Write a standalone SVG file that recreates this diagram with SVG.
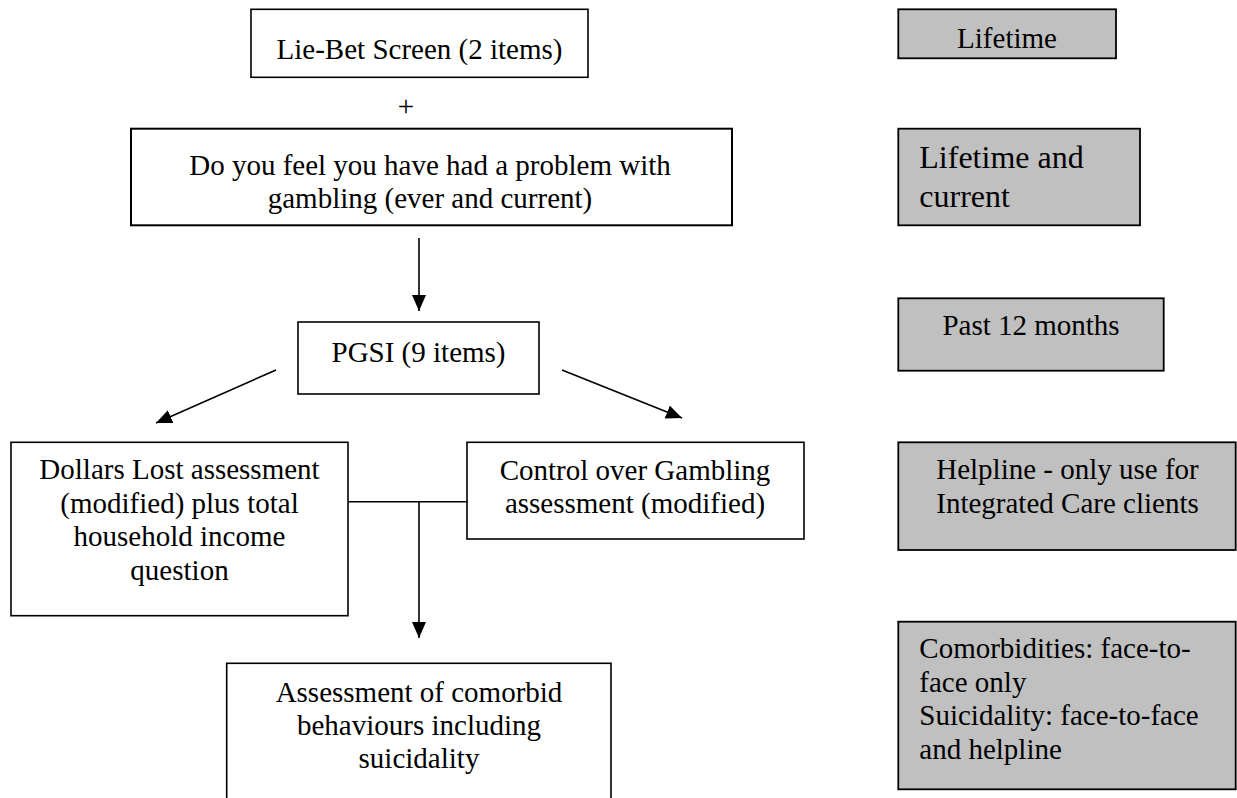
<svg xmlns="http://www.w3.org/2000/svg" width="1237" height="798" viewBox="0 0 1237 798">
<style>
  .box { fill: #ffffff; stroke: #000000; stroke-width: 1.6; }
  .note { fill: #c0c0c0; stroke: #000000; stroke-width: 1.8; }
  .t { font-family: "Liberation Serif", "Times New Roman", serif; font-size: 29px; fill: #000000; }
  .c { text-anchor: middle; }
  .big { font-size: 32px; }
  .conn { stroke: #000000; stroke-width: 1.6; fill: none; }
</style>
<defs>
  <marker id="ah" markerUnits="userSpaceOnUse" markerWidth="16" markerHeight="14" refX="16" refY="7" orient="auto">
    <path d="M0,0 L16,7 L0,14 z" fill="#000000"/>
  </marker>
</defs>
<rect x="0" y="0" width="1237" height="798" fill="#ffffff"/>

<g id="liebet">
  <rect class="box" x="251" y="9.3" width="337" height="68"/>
  <text class="t c" x="419.5" y="59">Lie-Bet Screen (2 items)</text>
</g>
<g id="plus">
  <text class="t c" x="406" y="116">+</text>
</g>
<g id="problem">
  <rect class="box" x="131" y="128.7" width="601" height="96.6" style="stroke-width:2"/>
  <text class="t c" x="430" y="175">Do you feel you have had a problem with</text>
  <text class="t c" x="430" y="208">gambling (ever and current)</text>
</g>
<g id="pgsi">
  <rect class="box" x="298" y="322" width="241" height="72"/>
  <text class="t c" x="418.5" y="362">PGSI (9 items)</text>
</g>
<g id="dollars">
  <rect class="box" x="11" y="442.3" width="337" height="173.4"/>
  <text class="t c" x="179.5" y="479">Dollars Lost assessment</text>
  <text class="t c" x="179.5" y="513">(modified) plus total</text>
  <text class="t c" x="179.5" y="546">household income</text>
  <text class="t c" x="179.5" y="580">question</text>
</g>
<g id="control">
  <rect class="box" x="467" y="442.3" width="337" height="96.7"/>
  <text class="t c" x="635" y="480">Control over Gambling</text>
  <text class="t c" x="635" y="513">assessment (modified)</text>
</g>
<g id="comorbid">
  <rect class="box" x="226.7" y="663.3" width="384.3" height="150"/>
  <text class="t c" x="419" y="702">Assessment of comorbid</text>
  <text class="t c" x="419" y="735">behaviours including</text>
  <text class="t c" x="419" y="768">suicidality</text>
</g>

<g id="note-lifetime">
  <rect class="note" x="898.3" y="9.3" width="217.7" height="49"/>
  <text class="t c" x="1007" y="47.7">Lifetime</text>
</g>
<g id="note-lifetime-current">
  <rect class="note" x="898.3" y="128.7" width="241.7" height="96.6"/>
  <text class="t big" x="919.3" y="168.3">Lifetime and</text>
  <text class="t big" x="919.3" y="206.7">current</text>
</g>
<g id="note-past12">
  <rect class="note" x="898.3" y="298.3" width="265.4" height="72.4"/>
  <text class="t c" x="1031" y="335">Past 12 months</text>
</g>
<g id="note-helpline">
  <rect class="note" x="898.3" y="442.3" width="337.4" height="107.7"/>
  <text class="t c" x="1067.5" y="479.3">Helpline - only use for</text>
  <text class="t c" x="1067.5" y="513.3">Integrated Care clients</text>
</g>
<g id="note-comorbidities">
  <rect class="note" x="898.3" y="621.7" width="337.4" height="167.6"/>
  <text class="t" x="919.3" y="658.3">Comorbidities: face-to-</text>
  <text class="t" x="919.3" y="691.7">face only</text>
  <text class="t" x="919.3" y="725">Suicidality: face-to-face</text>
  <text class="t" x="919.3" y="759">and helpline</text>
</g>

<g id="connectors">
  <line class="conn" x1="419" y1="238" x2="419" y2="311" marker-end="url(#ah)"/>
  <line class="conn" x1="276" y1="370" x2="156" y2="423" marker-end="url(#ah)"/>
  <line class="conn" x1="562" y1="370" x2="682" y2="418" marker-end="url(#ah)"/>
  <line class="conn" x1="348" y1="501.7" x2="467" y2="501.7"/>
  <line class="conn" x1="419" y1="501.7" x2="419" y2="638" marker-end="url(#ah)"/>
</g>
</svg>
